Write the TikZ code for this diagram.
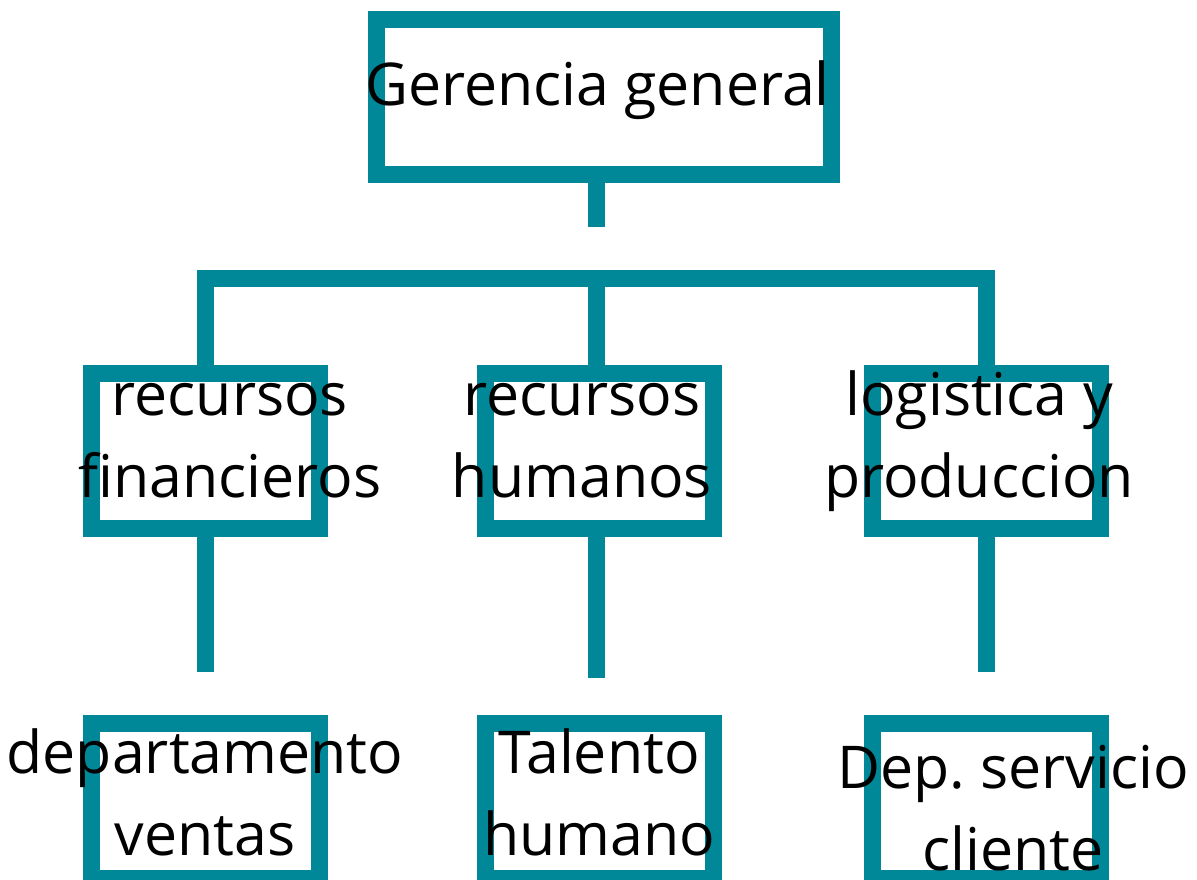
\documentclass[tikz,border=0pt]{standalone}
\usepackage{fontspec}
\setmainfont{Open Sans}
\usepackage{tikz}
\usetikzlibrary{positioning}
\definecolor{orgteal}{RGB}{0,136,152}

\begin{document}
\begin{tikzpicture}[x=0.5pt, y=-0.5pt,
  orgbox/.style={draw=orgteal, line width=8.5pt, minimum width=114pt, minimum height=77.5pt, inner sep=0pt},
  orgtext/.style={align=center, font=\fontsize{29.5}{41}\selectfont, inner sep=0pt},
  orglink/.style={draw=orgteal, line width=8.5pt}]
\useasboundingbox (0,0) rectangle (1197,879);
% boxes
\node[orgbox, minimum width=227.5pt] (gerencia) at (604,97) {};
\node[orgbox] (financieros) at (205.5,451) {};
\node[orgbox] (humanos) at (599.5,451) {};
\node[orgbox] (logistica) at (986.5,451) {};
\node[orgbox] (ventas) at (205.5,801) {};
\node[orgbox] (talento) at (599.5,801) {};
\node[orgbox] (servicio) at (986.5,801) {};
% connectors
\coordinate[below=22pt of gerencia.south, xshift=-3.75pt] (gerenciaend);
\draw[orglink] (gerenciaend |- gerencia.south) -- (gerenciaend);
\coordinate (bar) at (596.5,278.5);
\draw[orglink] (financieros.north) |- (bar) -| (logistica.north);
\draw[orglink] ([xshift=-1.5pt]humanos.north) -- ([xshift=-1.5pt]humanos.north |- bar);
\coordinate[below=67.5pt of financieros.south] (financierosend);
\draw[orglink] (financieros.south) -- (financierosend);
\coordinate[below=70.5pt of humanos.south, xshift=-1.5pt] (humanosend);
\draw[orglink] (humanosend |- humanos.south) -- (humanosend);
\coordinate[below=67.5pt of logistica.south] (logisticaend);
\draw[orglink] (logistica.south) -- (logisticaend);
% labels (base = last line)
\node[orgtext, anchor=base] (gerenciatxt) at (597.5,105) {Gerencia general};
\node[orgtext, anchor=base] (financierostxt) at (230,497) {recursos\\financieros};
\node[orgtext, anchor=base] (humanostxt) at (582,497) {recursos\\humanos};
\node[orgtext, anchor=base] (logisticatxt) at (979,497) {logistica y\\produccion};
\node[orgtext, anchor=base] (ventastxt) at (205,855) {departamento\\ventas};
\node[orgtext, anchor=base] (talentotxt) at (599,855) {Talento\\humano};
\node[orgtext, anchor=base] (serviciotxt) at (1013,870) {Dep.\ servicio\\cliente};
\end{tikzpicture}
\end{document}
